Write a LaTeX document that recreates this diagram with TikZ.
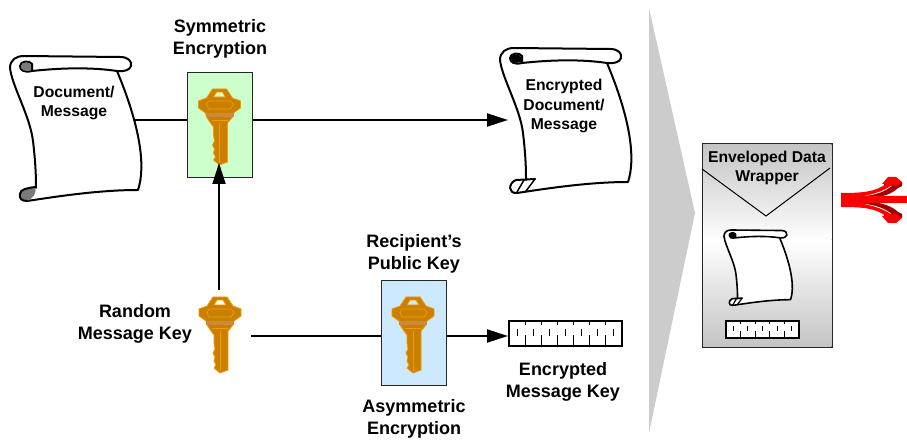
\documentclass[tikz,border=0pt]{standalone}
\usepackage{fontspec}
\setmainfont{Liberation Sans}
\usetikzlibrary{arrows.meta}
\definecolor{keyfill}{HTML}{C98000}
\definecolor{keyline}{HTML}{F29A00}
\definecolor{keyband}{HTML}{CC8A3C}
\definecolor{symbox}{HTML}{CCFFCC}
\definecolor{asymbox}{HTML}{CCE9FF}
\definecolor{chevron}{HTML}{CCCCCC}
\definecolor{envgray}{HTML}{C4C4C4}
\definecolor{curlgray}{HTML}{7A7A7A}
\definecolor{forkdark}{HTML}{A00000}
\tikzset{
  conn/.style={line width=2pt,draw=black},
  connarrow/.style={conn,-{Triangle[length=21pt,width=13pt]}},
  lbl/.style={font=\bfseries\fontsize{18}{22}\selectfont,align=center,inner sep=0pt},
  lblsmall/.style={font=\bfseries\fontsize{15.7}{19.5}\selectfont,align=center,inner sep=0pt},
  keybox/.style={draw=black!85,line width=1pt,inner sep=0pt,minimum width=65pt,minimum height=105pt},
  scrollline/.style={line width=#1,draw=black,line join=round,line cap=round},
  keybody/.style={fill=keyfill,draw=keyline,line width=.8pt,even odd rule},
  stripline/.style={draw=black,line width=#1},
}
% #1 x, #2 y : top centre of a key
\newcommand{\keyart}[2]{%
\begin{scope}[shift={(#1,#2)}]
  \path[keybody] (-7,0)--(7,0)--(13,9)--(21,12)--(21,19)--(14,24)--(13,28)--(8,34)--(8,73)--(0,76)--(-6,71)--(-4,68)--(-6,64)--(-5,60)--(-7,56)--(-5,52)--(-6,46)--(-6,38)--(-9,34)--(-13,28)--(-14,24)--(-21,19)--(-21,12)--(-13,9)--cycle
     (-6,8)--(6,8)--(3,3)--(-3,3)--cycle;
  \fill[keyband] (-14,24) rectangle (14,28);
  \draw[keyline,line width=.7pt] (-13,15.5)--(-11,12)--(11,12)--(14,15.5)--(11,20)--(-11,20)--cycle;
  \draw[keyline,line width=.8pt] (0,34)--(0,74);
  \draw[keyline,line width=.5pt] (-8,31)--(8,31);
\end{scope}}
% #1 x, #2 y, #3 scale, #4 line width, #5 curl fill, #6 bottom curl extras
\newcommand{\scrollart}[6]{%
\begin{scope}[shift={(#1,#2)},scale=#3]
  \path[fill=white] (0,12) .. controls (0,4) and (6,0) .. (14,0) -- (110,1) .. controls (118,1) and (122,5) .. (121,10) .. controls (120,14) and (114,16) .. (107,15) .. controls (130,70) and (136,110) .. (128,134) .. controls (90,134) and (50,140) .. (17,145) .. controls (10,145) and (8,136) .. (14,133) -- (26,132) .. controls (26,125) and (26,110) .. (23,85) .. controls (20,60) and (2,30) .. (0,12) -- cycle;
  \draw[scrollline=#4] (0,12) .. controls (0,4) and (6,0) .. (14,0) -- (110,1) .. controls (118,1) and (122,5) .. (121,10) .. controls (120,14) and (114,16) .. (107,15) .. controls (80,11) and (50,12) .. (22,15) .. controls (14,17) and (10,14) .. (10,10) .. controls (10,5) and (20,4) .. (22,8) -- (22,15);
  \draw[scrollline=#4] (0,12) .. controls (2,30) and (20,60) .. (23,85) .. controls (26,110) and (26,125) .. (26,132);
  \draw[scrollline=#4] (107,15) .. controls (130,70) and (136,110) .. (128,134) .. controls (90,134) and (50,140) .. (17,145);
  \fill[#5] (11,10) .. controls (11,6) and (20,5) .. (21,9) -- (21,14) .. controls (14,16) and (11,14) .. (11,10) -- cycle;
  #6
\end{scope}}
% #1 x, #2 y, #3 cells, #4 cell width, #5 height
\newcommand{\stripart}[5]{%
\begin{scope}[shift={(#1,#2)}]
  \fill[white] (0,0) rectangle ({#3*#4},#5);
  \draw[stripline=1.3pt] (0,0) rectangle ({#3*#4},#5);
  \foreach \i in {1,...,#3}{
    \draw[stripline=1pt] ({(\i-.5)*#4},{.32*#5})--({(\i-.5)*#4},{.6*#5});
    \ifnum\i<#3
      \draw[stripline=1pt] ({\i*#4},0)--({\i*#4},{.17*#5});
      \draw[stripline=1pt] ({\i*#4},{.58*#5})--({\i*#4},#5);
    \fi
  }
\end{scope}}
\begin{document}
\begin{tikzpicture}[x=1pt,y=-1pt]
\useasboundingbox (0,0) rectangle (907,443);
% chevron
\fill[chevron] (649,8)--(695,213)--(649,433)--cycle;
% connector end points
\coordinate (docE) at (135,120);
\coordinate (encW) at (508,120);
\coordinate (rkN) at (219,290);
\coordinate (rkE) at (251,336);
\coordinate (stripW) at (508,336);
\coordinate (symS) at (219,163);
% connectors that run behind the boxes
\draw[connarrow] (docE) -- (encW);
\draw[connarrow] (rkE) -- (stripW);
% boxes
\node[keybox,fill=symbox] (sym) at (219.5,125.5) {};
\node[keybox,fill=asymbox] (asym) at (413.5,333) {};
\keyart{219.5}{89}
\keyart{413}{297}
\keyart{220}{297}
\draw[connarrow] (rkN) -- (symS);
% scrolls
\scrollart{10}{56}{1}{2pt}{curlgray}{%
  \fill[curlgray] (10,138) .. controls (12,133) and (18,132) .. (25,131) .. controls (27,136) and (24,142) .. (17,145) .. controls (11,145) and (9,142) .. (10,138) -- cycle;
  \draw[scrollline=2pt] (25,131) .. controls (18,132) and (10,133) .. (10,138) .. controls (9,142) and (11,145) .. (17,145);}
\scrollart{500}{48}{1}{2pt}{black}{%
  \draw[scrollline=2pt] (35,131) -- (16,132) .. controls (8,135) and (8,146) .. (17,145);
  \draw[scrollline=1.5pt] (35,131) -- (26,143);
  \draw[scrollline=1.5pt] (24,132) -- (17,144);}
% envelope
\draw[black!75,line width=1pt,top color=envgray,bottom color=white,shading angle=0] (702,144) rectangle (832,240);
\draw[black!75,line width=1pt,top color=white,bottom color=envgray] (702,240) rectangle (832,347);
\fill[top color=envgray,bottom color=white] (702.5,144.5) rectangle (831.5,240);
\fill[top color=white,bottom color=envgray] (702.5,240) rectangle (831.5,346.5);
\draw[black!85,line width=1pt] (702,144) rectangle (832,347);
\draw[black,line width=1pt] (702,169)--(766,216)--(830,168);
\scrollart{724}{230}{.52}{1.6pt}{black}{%
  \draw[scrollline=1.6pt] (35,131) -- (16,132) .. controls (8,135) and (8,146) .. (17,145);
  \draw[scrollline=1.2pt] (35,131) -- (26,143);
  \draw[scrollline=1.2pt] (24,132) -- (17,144);}
\stripart{509}{321}{7}{16.14}{25}
\stripart{726}{321}{5}{14.6}{17}
% red fork
\foreach \m in {1,-1}{
\begin{scope}[shift={(0,200)},yscale=\m]
  \fill[forkdark] (855,-3) .. controls (870,-4) and (882,-6) .. (892,-14) -- (884,-14) -- (884,-18) -- (902,-18) -- (902,-14) -- (898,-12) .. controls (890,-4) and (875,-1) .. (855,-1) -- cycle;
  \fill[red] (841,-7) .. controls (862,-7) and (875,-8) .. (886,-16) -- (882,-16) -- (888,-23) -- (896,-23) -- (902,-18) -- (896,-14) -- (892,-15) .. controls (880,-6) and (862,-3) .. (841,-1) -- cycle;
\end{scope}}
\fill[red] (841,194) -- (870,196) -- (907,196) -- (907,203) -- (870,203) -- (841,206) -- cycle;
% labels
\node[lbl] (tsym) at (220,38.5) {Symmetric\\Encryption};
\node[lblsmall] (tdoc) at (74,103) {Document/\\Message};
\node[lblsmall] (tenc) at (564,106) {Encrypted\\Document/\\Message};
\node[lbl] (trec) at (414,254) {Recipient’s\\Public Key};
\node[lbl] (tasy) at (414,419) {Asymmetric\\Encryption};
\node[lbl] (trnd) at (135,324) {Random\\Message Key};
\node[lbl] (tekey) at (563,382) {Encrypted\\Message Key};
\node[lblsmall] (tenv) at (767,168) {Enveloped Data\\Wrapper};
\end{tikzpicture}
\end{document}
